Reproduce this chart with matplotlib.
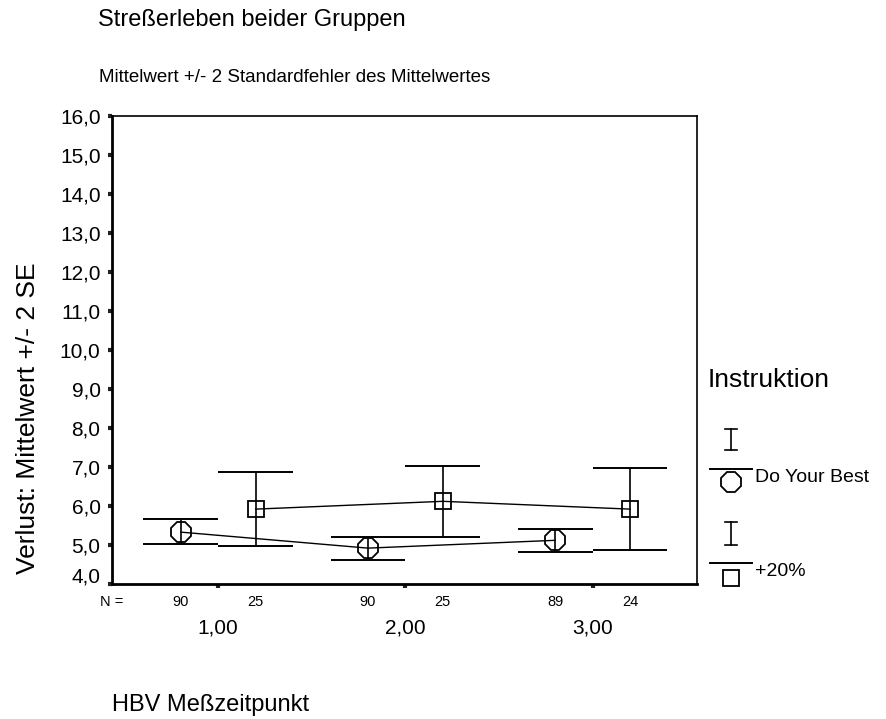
import matplotlib
matplotlib.use("Agg")
import matplotlib.pyplot as plt
from matplotlib.transforms import ScaledTranslation, blended_transform_factory

plt.rcParams['font.family'] = ['Liberation Sans', 'DejaVu Sans']

# data
groups = [1, 2, 3]
group_labels = ['1,00', '2,00', '3,00']

dyb_mean = [5.33, 4.92, 5.12]
dyb_low = [5.02, 4.62, 4.82]
dyb_high = [5.67, 5.21, 5.42]
dyb_n = [90, 90, 89]

p20_mean = [5.92, 6.12, 5.92]
p20_low = [4.97, 5.21, 4.86]
p20_high = [6.88, 7.03, 6.98]
p20_n = [25, 25, 24]

series_names = ['Do Your Best', '+20%']

W, H = 887, 719
fig = plt.figure(figsize=(W / 100, H / 100), dpi=100)
ax = fig.add_axes([111.7 / W, 1 - 584 / H, 585 / W, 468 / H])

off = 0.2   # horizontal offset of the two groups
cap = 0.2   # half width of the caps


def draw_series(xs, mean, low, high, marker, ms):
    ax.vlines(xs, low, high, color='k', lw=1.2, zorder=2)
    ax.hlines(low, [x - cap for x in xs], [x + cap for x in xs], color='k', lw=1.4, zorder=2)
    ax.hlines(high, [x - cap for x in xs], [x + cap for x in xs], color='k', lw=1.4, zorder=2)
    ax.plot(xs, mean, color='k', lw=1.0, marker=marker, ms=ms,
            mfc='none', mec='k', mew=1.3, zorder=3)


x_dyb = [g - off for g in groups]
x_p20 = [g + off for g in groups]
draw_series(x_dyb, dyb_mean, dyb_low, dyb_high, '8', 15)
draw_series(x_p20, p20_mean, p20_low, p20_high, 's', 12)

ax.set_xlim(0.431, 3.556)
ax.set_ylim(4, 16)

yt = list(range(4, 17))
ax.set_yticks(yt)
ax.set_yticklabels([f"{v:.1f}".replace('.', ',') for v in yt], fontsize=15)
ax.set_xticks(groups)
ax.set_xticklabels(group_labels, fontsize=15)
ax.tick_params(axis='both', direction='out', length=3, width=3, color='#222222')
ax.tick_params(axis='y', pad=5)
ax.tick_params(axis='x', pad=22)

for s in ['left', 'bottom']:
    ax.spines[s].set_linewidth(2)
for s in ['top', 'right']:
    ax.spines[s].set_linewidth(1.2)

# the lowest tick label sits a bit higher in the original
lab0 = ax.get_yticklabels()[0]
lab0.set_transform(lab0.get_transform() + ScaledTranslation(0, 9 / 100, fig.dpi_scale_trans))

# N row under the axis
trans = blended_transform_factory(ax.transData, ax.transAxes)
ny = -18 / 468
ax.text(0.0, ny, 'N =', transform=ax.transAxes, ha='center', va='center', fontsize=10.5)
for x, n in zip(x_dyb, dyb_n):
    ax.text(x, ny, str(n), transform=trans, ha='center', va='center', fontsize=10.5)
for x, n in zip(x_p20, p20_n):
    ax.text(x, ny, str(n), transform=trans, ha='center', va='center', fontsize=10.5)

# titles
fig.text(98 / W, 1 - 20 / H, 'Streßerleben beider Gruppen', fontsize=17, va='center')
fig.text(99 / W, 1 - 77 / H, 'Mittelwert +/- 2 Standardfehler des Mittelwertes', fontsize=13.5, va='center')
fig.text(28 / W, 1 - 418 / H, 'Verlust: Mittelwert +/- 2 SE', fontsize=19, rotation=90,
         ha='center', va='center')
fig.text(112 / W, 1 - 705 / H, 'HBV Meßzeitpunkt', fontsize=17, va='center')

# legend, drawn in pixel space
lax = fig.add_axes([0, 0, 1, 1])
lax.set_xlim(0, W)
lax.set_ylim(H, 0)
lax.axis('off')
lax.text(708, 380, 'Instruktion', fontsize=19, va='center')
leg_rows = [(429, 450, 469, 482, '8', 15, 478), (522, 545, 563, 578, 's', 12, 572)]
for (top, bot, ly, my, mk, ms, ty), name in zip(leg_rows, series_names):
    lax.plot([731, 731], [top, bot], color='k', lw=1.2)
    lax.plot([725, 737], [top, top], color='k', lw=1.2)
    lax.plot([725, 737], [bot, bot], color='k', lw=1.2)
    lax.plot([710, 752], [ly, ly], color='k', lw=1.4)
    lax.plot([731], [my], marker=mk, ms=ms, mfc='none', mec='k', mew=1.3)
    lax.text(755, ty, name, fontsize=14, va='center')

fig.savefig('out.png', dpi=100)
